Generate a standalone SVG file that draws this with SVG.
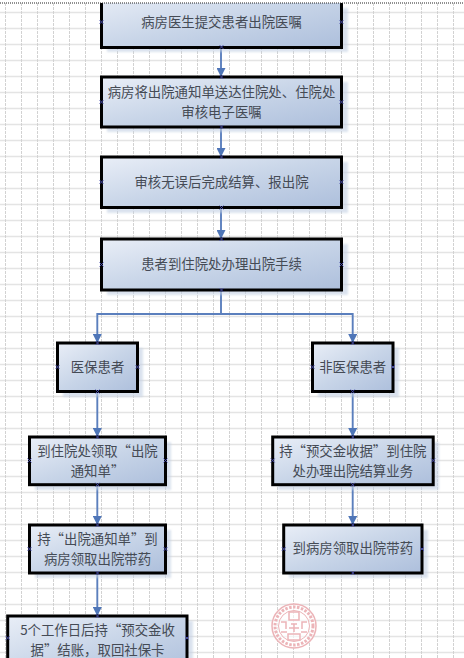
<svg xmlns="http://www.w3.org/2000/svg" width="464" height="658" viewBox="0 0 464 658">
<style>
.g{stroke:#d2d2d2;stroke-width:1;stroke-dasharray:3 1;fill:none}
.h{stroke:#e4e4e4;stroke-width:1.5;fill:none}
.b{fill:url(#bg);stroke:#000;stroke-width:3}
.s{fill:#c3d0e4;opacity:.6;filter:url(#bl)}
.t{font-family:"Noto Sans CJK SC","Noto Sans CJK JP",sans-serif;font-size:13.4px;fill:#454b55;text-anchor:middle;font-feature-settings:"fwid" 1}
.n{font-feature-settings:normal}
.c{fill:none;stroke:#5b7fbd;stroke-width:1.9}
.x{stroke:#4a4fb0;stroke-width:.9;fill:none}
.st{fill:none;stroke:#ecb4b8}
</style>
<defs>
<linearGradient id="bg" x1="0" y1="0" x2="1" y2="1"><stop offset="0" stop-color="#e9eef7"/><stop offset=".5" stop-color="#c8d5e8"/><stop offset="1" stop-color="#adbfdc"/></linearGradient>
<filter id="bl" x="-10%" y="-10%" width="120%" height="120%"><feGaussianBlur stdDeviation="1"/></filter>
<marker id="a" markerUnits="userSpaceOnUse" markerWidth="10" markerHeight="9" refX="9" refY="4.500" orient="auto"><path d="M0 0L9 4.500L0 9z" fill="#4f76b8"/></marker>
<path id="m" class="x" d="M-2 -2L2 2M-2 2L2 -2"/>
</defs>
<rect width="464" height="658" fill="#fff"/>
<g id="grid">
<path class="h" d="M0 12.500H464M0 28.500H464M0 44.500H464M0 60.500H464M0 76.500H464M0 92.500H464M0 108.500H464M0 124.500H464M0 140.500H464M0 156.500H464M0 172.500H464M0 188.500H464M0 204.500H464M0 220.500H464M0 236.500H464M0 252.500H464M0 268.500H464M0 284.500H464M0 300.500H464M0 316.500H464M0 332.500H464M0 348.500H464M0 364.500H464M0 380.500H464M0 396.500H464M0 412.500H464M0 428.500H464M0 444.500H464M0 460.500H464M0 476.500H464M0 492.500H464M0 508.500H464M0 524.500H464M0 540.500H464M0 556.500H464M0 572.500H464M0 588.500H464M0 604.500H464M0 620.500H464M0 636.500H464M0 652.500H464"/>
<path class="g" d="M5.500 3V658M21.500 3V658M37.500 3V658M53.500 3V658M69.500 3V658M85.500 3V658M101.500 3V658M117.500 3V658M133.500 3V658M149.500 3V658M165.500 3V658M181.500 3V658M197.500 3V658M213.500 3V658M229.500 3V658M245.500 3V658M261.500 3V658M277.500 3V658M293.500 3V658M309.500 3V658M325.500 3V658M341.500 3V658M357.500 3V658M373.500 3V658M389.500 3V658M405.500 3V658M421.500 3V658M437.500 3V658M453.500 3V658"/>
</g>
<g id="connectors">
<path class="c" marker-end="url(#a)" d="M221 48V77"/>
<path class="c" marker-end="url(#a)" d="M221 127V157"/>
<path class="c" marker-end="url(#a)" d="M221 208V239"/>
<path class="c" d="M221 290V314"/>
<path class="c" marker-end="url(#a)" d="M221 314H97.300V343"/>
<path class="c" marker-end="url(#a)" d="M221 314H352.700V343"/>
<path class="c" marker-end="url(#a)" d="M97.300 392V437"/>
<path class="c" marker-end="url(#a)" d="M352.700 392V437"/>
<path class="c" marker-end="url(#a)" d="M97.300 485V525"/>
<path class="c" marker-end="url(#a)" d="M352.700 485V525"/>
<path class="c" marker-end="url(#a)" d="M97.300 573V616"/>
</g>
<g id="n1"><rect class="s" x="107" y="8" width="241" height="44"/><rect class="b" x="101.500" y="-6" width="240" height="53.500"/><text class="t" x="221.500" y="27">病房医生提交患者出院医嘱</text><use href="#m" x="101.500" y="22"/><use href="#m" x="341.500" y="22"/><use href="#m" x="221.500" y="47"/></g>
<g id="n2"><rect class="s" x="107" y="82" width="241" height="50"/><rect class="b" x="101.500" y="77" width="240" height="50"/><text class="t" x="221.500" y="97">病房将出院通知单送达住院处、住院处</text><text class="t" x="221.500" y="116.500">审核电子医嘱</text><use href="#m" x="101.500" y="102"/><use href="#m" x="341.500" y="102"/><use href="#m" x="221.500" y="77"/><use href="#m" x="221.500" y="127"/></g>
<g id="n3"><rect class="s" x="107" y="162" width="241" height="51"/><rect class="b" x="101.500" y="157" width="240" height="50.500"/><text class="t" x="221.500" y="187">审核无误后完成结算、报出院</text><use href="#m" x="101.500" y="182"/><use href="#m" x="341.500" y="182"/><use href="#m" x="221.500" y="157"/><use href="#m" x="221.500" y="207.500"/></g>
<g id="n4"><rect class="s" x="107" y="244" width="241" height="51"/><rect class="b" x="101.500" y="239" width="240" height="51"/><text class="t" x="221.500" y="269">患者到住院处办理出院手续</text><use href="#m" x="101.500" y="264.500"/><use href="#m" x="341.500" y="264.500"/><use href="#m" x="221.500" y="239"/><use href="#m" x="221.500" y="290"/></g>
<g id="n5"><rect class="s" x="63" y="348" width="80" height="49"/><rect class="b" x="57.500" y="343" width="80" height="48.500"/><text class="t" x="97.500" y="372">医保患者</text><use href="#m" x="57.500" y="367"/><use href="#m" x="137.500" y="367"/><use href="#m" x="97.500" y="343"/><use href="#m" x="97.500" y="391.500"/></g>
<g id="n6"><rect class="s" x="318" y="348" width="81" height="49"/><rect class="b" x="312.500" y="343" width="80.500" height="48.500"/><text class="t" x="352.700" y="372">非医保患者</text><use href="#m" x="312.500" y="367"/><use href="#m" x="393" y="367"/><use href="#m" x="352.700" y="343"/><use href="#m" x="352.700" y="391.500"/></g>
<g id="n7"><rect class="s" x="35" y="442" width="136" height="48"/><rect class="b" x="29.500" y="437" width="136" height="47.700"/><text class="t" x="97.500" y="456">到住院处领取“出院</text><text class="t" x="97.500" y="475.500">通知单”</text><use href="#m" x="29.500" y="460.500"/><use href="#m" x="165.500" y="460.500"/><use href="#m" x="97.500" y="437"/><use href="#m" x="97.500" y="484.700"/></g>
<g id="n8"><rect class="s" x="278" y="442" width="161" height="48"/><rect class="b" x="272.700" y="437" width="160.500" height="47.700"/><text class="t" x="352.800" y="456">持“预交金收据”到住院</text><text class="t" x="352.800" y="475.500">处办理出院结算业务</text><use href="#m" x="272.700" y="460.500"/><use href="#m" x="433.200" y="460.500"/><use href="#m" x="352.800" y="437"/><use href="#m" x="352.800" y="484.700"/></g>
<g id="n9"><rect class="s" x="35" y="530" width="136" height="48"/><rect class="b" x="29.500" y="525" width="136" height="48"/><text class="t" x="97.500" y="544">持“出院通知单”到</text><text class="t" x="97.500" y="563.500">病房领取出院带药</text><use href="#m" x="29.500" y="549"/><use href="#m" x="165.500" y="549"/><use href="#m" x="97.500" y="525"/><use href="#m" x="97.500" y="573"/></g>
<g id="n10"><rect class="s" x="289" y="530" width="139" height="48"/><rect class="b" x="283.700" y="525" width="138.300" height="48"/><text class="t" x="352.800" y="553">到病房领取出院带药</text><use href="#m" x="283.700" y="549"/><use href="#m" x="422" y="549"/><use href="#m" x="352.800" y="525"/><use href="#m" x="352.800" y="573"/></g>
<g id="n11"><rect class="s" x="13" y="621" width="180" height="50"/><rect class="b" x="7.700" y="616" width="179.300" height="60"/><text class="t" x="97.500" y="635"><tspan class="n">5</tspan>个工作日后持“预交金收</text><text class="t" x="97.500" y="654.500">据”结账，取回社保卡</text><use href="#m" x="7.700" y="638"/><use href="#m" x="187" y="638"/><use href="#m" x="97.500" y="616"/></g>
<g id="stamp">
<circle cx="294" cy="626" r="22" fill="#fff" fill-opacity=".6" stroke="#ecb4b8" stroke-width="1.500"/>
<circle class="st" cx="294" cy="626" r="19" stroke-width="3" stroke-dasharray="2.500 1.500"/>
<circle class="st" cx="294" cy="626" r="15.500" stroke-width="1"/>
<path class="st" stroke-width="1.500" d="M289 612h10v8h-10zM291 624h6M289 628h10M294 624v8M288 634h12v6h-12zM281 622h5v7M307 622h-5v7M281 632h6M307 632h-6"/>
</g>
<g id="frame">
<rect x="0" y="0" width="464" height="3" fill="#fff"/>
<path d="M0 3H464" stroke="#222" stroke-width="1" stroke-dasharray="1 1" fill="none"/>
</g>
</svg>
